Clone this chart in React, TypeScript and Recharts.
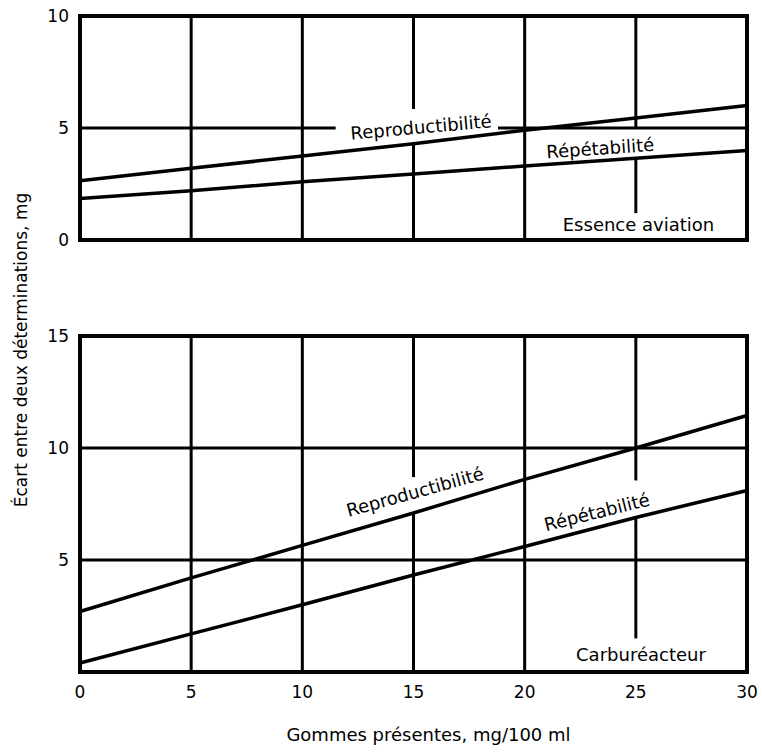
import { LineChart, Line, XAxis, YAxis, ReferenceLine, ReferenceArea, ReferenceDot } from 'recharts';

// gommes présentes, mg/100 ml
const gommes = [0, 5, 10, 15, 20, 25, 30];

// essence aviation
const essenceReproductibilite = [2.65, 3.2, 3.75, 4.3, 4.9, 5.45, 6.0];
const essenceRepetabilite = [1.85, 2.2, 2.6, 2.95, 3.3, 3.65, 4.0];

// carburéacteur
const carbuReproductibilite = [2.7, 4.2, 5.65, 7.1, 8.6, 10.0, 11.45];
const carbuRepetabilite = [0.4, 1.7, 3.0, 4.33, 5.6, 6.9, 8.1];

const xTicks = [0, 5, 10, 15, 20, 25, 30];
const yTicksEssence = [0, 5, 10];
const yTicksCarbu = [5, 10, 15];

// grid pieces (broken where the labels sit)
const gridEssence = [
  [0, 5, 11.5, 5], [18.8, 5, 30, 5],
  [5, 0, 5, 10], [10, 0, 10, 10], [20, 0, 20, 10],
  [15, 5.85, 15, 10], [15, 0, 15, 4.3],
  [25, 5, 25, 10], [25, 1.2, 25, 3.65],
];
const gridCarbu = [
  [0, 5, 30, 5], [0, 10, 30, 10],
  [5, 0, 5, 15], [10, 0, 10, 15], [20, 0, 20, 15],
  [15, 8.7, 15, 15], [15, 0, 15, 7.1],
  [25, 8.55, 25, 15], [25, 1.5, 25, 6.9],
];

const essenceData = gommes.map((g, i) => ({ g, reprod: essenceReproductibilite[i], repet: essenceRepetabilite[i] }));
const carbuData = gommes.map((g, i) => ({ g, reprod: carbuReproductibilite[i], repet: carbuRepetabilite[i] }));

const INK = '#000';
const FONT = 'DejaVu Sans';

function gridLines(segs: number[][]) {
  return segs.map((s, i) => (
    <ReferenceLine key={`g-${i}`} segment={[{ x: s[0], y: s[1] }, { x: s[2], y: s[3] }]} stroke={INK} strokeWidth={3} ifOverflow="visible" />
  ));
}

function note(x: number, y: number, text: string, angle = 0) {
  return (
    <ReferenceDot
      x={x}
      y={y}
      r={0}
      fill="none"
      stroke="none"
      label={{ value: text, position: 'center', angle, fill: INK, fontSize: 18 }}
    />
  );
}

export default function App() {
  return (
    <div style={{ position: 'absolute', left: 0, top: 0, width: 762, height: 752, background: '#fff', fontFamily: FONT }}>
      <div style={{ position: 'absolute', left: 0, top: 0 }}>
        <LineChart width={762} height={752} data={carbuData} margin={{ top: 336, right: 15, bottom: 30, left: 0 }}>
          <XAxis
            dataKey="g"
            type="number"
            domain={[0, 30]}
            ticks={xTicks}
            axisLine={false}
            tickLine={false}
            tickSize={0}
            tickMargin={14}
            height={50}
            tick={{ fill: INK, fontSize: 17 }}
            label={{ value: 'Gommes présentes, mg/100 ml', position: 'bottom', offset: 6, dx: 15, fill: INK, fontSize: 18 }}
          />
          <YAxis
            type="number"
            domain={[0, 15]}
            ticks={yTicksCarbu}
            width={80}
            axisLine={false}
            tickLine={false}
            tickSize={0}
            tickMargin={11}
            tick={{ fill: INK, fontSize: 17 }}
            label={{ value: 'Écart entre deux déterminations, mg', position: 'center', angle: -90, dx: -19, dy: -154, fill: INK, fontSize: 17 }}
          />
          {gridLines(gridCarbu)}
          <ReferenceArea x1={0} x2={30} y1={0} y2={15} fill="none" stroke={INK} strokeWidth={4} />
          <Line dataKey="reprod" type="linear" stroke={INK} strokeWidth={3.5} dot={false} isAnimationActive={false} />
          <Line dataKey="repet" type="linear" stroke={INK} strokeWidth={3.5} dot={false} isAnimationActive={false} />
          {note(15.07, 8.04, 'Reproductibilité', -15.5)}
          {note(23.25, 7.14, 'Répétabilité', -14)}
          {note(25.23, 0.76, 'Carburéacteur')}
        </LineChart>
      </div>
      <div style={{ position: 'absolute', left: 0, top: 0 }}>
        <LineChart width={762} height={250} data={essenceData} margin={{ top: 16, right: 15, bottom: 10, left: 0 }}>
          <XAxis dataKey="g" type="number" domain={[0, 30]} ticks={xTicks} hide />
          <YAxis
            type="number"
            domain={[0, 10]}
            ticks={yTicksEssence}
            width={80}
            axisLine={false}
            tickLine={false}
            tickSize={0}
            tickMargin={11}
            tick={{ fill: INK, fontSize: 17 }}
          />
          {gridLines(gridEssence)}
          <ReferenceArea x1={0} x2={30} y1={0} y2={10} fill="none" stroke={INK} strokeWidth={4} />
          <Line dataKey="reprod" type="linear" stroke={INK} strokeWidth={3.5} dot={false} isAnimationActive={false} />
          <Line dataKey="repet" type="linear" stroke={INK} strokeWidth={3.5} dot={false} isAnimationActive={false} />
          {note(15.34, 5.04, 'Reproductibilité', -5)}
          {note(23.4, 4.1, 'Répétabilité', -4)}
          {note(25.12, 0.67, 'Essence aviation')}
        </LineChart>
      </div>
    </div>
  );
}
